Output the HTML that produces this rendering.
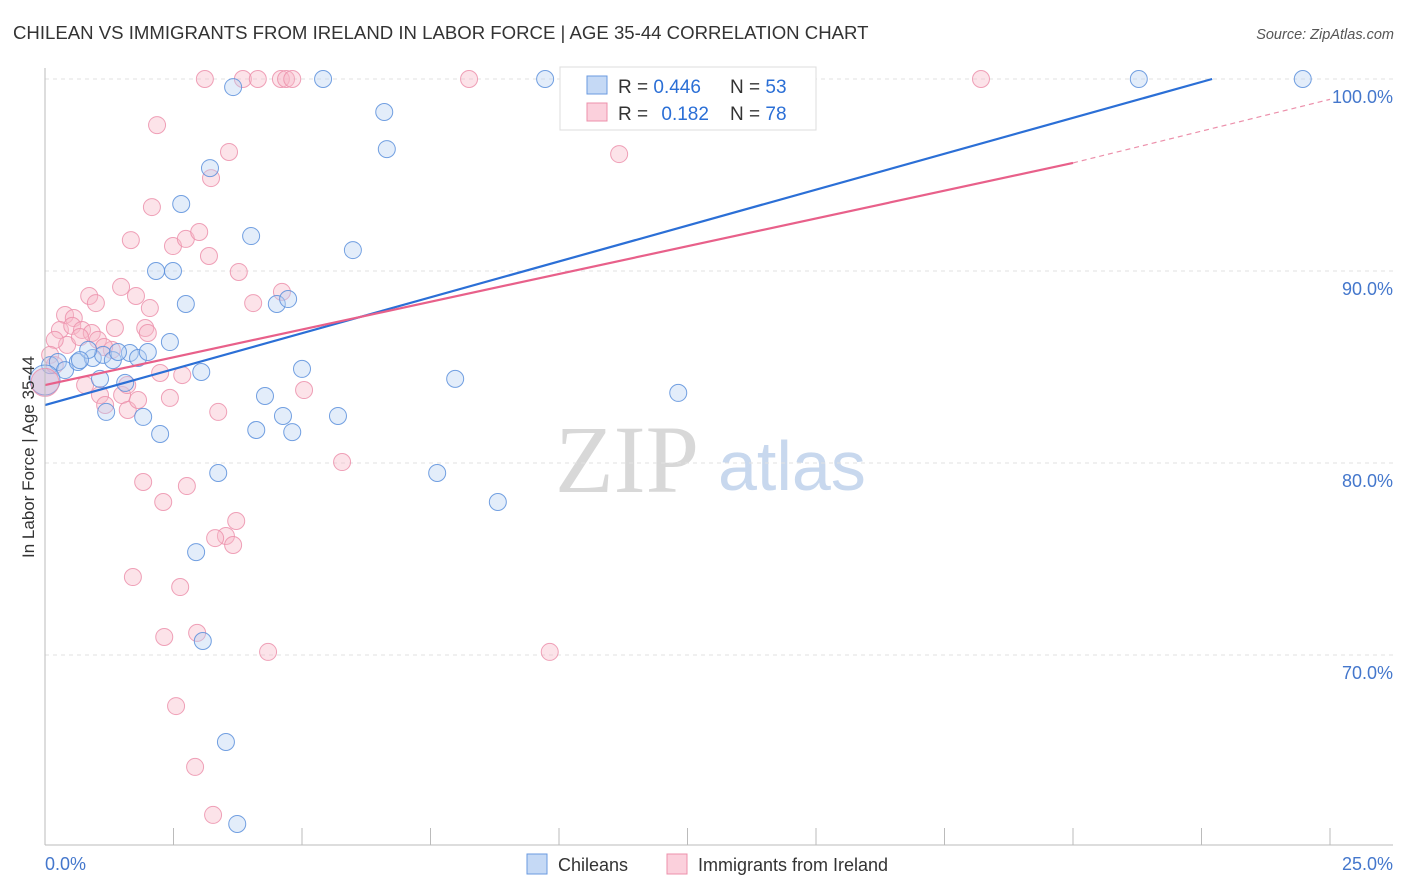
<!DOCTYPE html>
<html><head><meta charset="utf-8">
<style>
body{margin:0;background:#fff;font-family:"Liberation Sans",sans-serif;}
#wrap{position:relative;width:1406px;height:892px;overflow:hidden;}
</style></head>
<body>
<div id="wrap">
<svg id="svg" width="1406" height="892">
<text x="13" y="39" font-size="18.6" fill="#333">CHILEAN VS IMMIGRANTS FROM IRELAND IN LABOR FORCE | AGE 35-44 CORRELATION CHART</text>
<text x="1394" y="39" font-size="14.5" fill="#555" text-anchor="end" font-style="italic">Source: ZipAtlas.com</text>
<text x="555" y="492" font-size="96" fill="#d8d8d8" font-family="Liberation Serif">ZIP</text>
<text x="718" y="490" font-size="70" fill="#c8d8ee">atlas</text>
<g id="grid"></g><g id="pts"></g><g id="lines"></g>
<line x1="45" y1="68" x2="45" y2="845" stroke="#bbb"/>
<line x1="45" y1="845" x2="1393" y2="845" stroke="#bbb"/>
<text transform="translate(34,457) rotate(-90)" font-size="17" fill="#333" text-anchor="middle">In Labor Force | Age 35-44</text>
<text x="45" y="870" font-size="18" fill="#4477cc">0.0%</text>
<text x="1393" y="870" font-size="18" fill="#4477cc" text-anchor="end">25.0%</text>
<g>
<rect x="560" y="67" width="256" height="63" fill="#fff" stroke="#ddd"/>
<rect x="587" y="76" width="20" height="18" fill="#c5d9f5" stroke="#6a9ae0"/>
<rect x="587" y="103" width="20" height="18" fill="#fbd0dc" stroke="#ec90ab"/>
<text x="618" y="93" font-size="19" fill="#333">R = <tspan fill="#2b6fd6">0.446</tspan></text>
<text x="730" y="93" font-size="19" fill="#333">N = <tspan fill="#2b6fd6">53</tspan></text>
<text x="618" y="120" font-size="19" fill="#333">R = <tspan fill="#2b6fd6" dx="8">0.182</tspan></text>
<text x="730" y="120" font-size="19" fill="#333">N = <tspan fill="#2b6fd6">78</tspan></text>
</g>
<g>
<rect x="527" y="854" width="20" height="20" fill="#c5d9f5" stroke="#6a9ae0"/>
<text x="558" y="871" font-size="18" fill="#333">Chileans</text>
<rect x="667" y="854" width="20" height="20" fill="#fbd0dc" stroke="#ec90ab"/>
<text x="698" y="871" font-size="18" fill="#333">Immigrants from Ireland</text>
</g>
</svg>
</div>
<script>
const yTicks=[100,90,80,70];
const yTickLabels=["100.0%","90.0%","80.0%","70.0%"];
const xTicks=[0,2.5,5,7.5,10,12.5,15,17.5,20,22.5,25];
const blueX=[5.41,9.73,14.11,21.28,24.47,3.66,6.60,6.65,3.21,2.65,4.01,5.99,2.16,2.49,2.74,4.51,4.73,2.43,5.00,3.04,7.98,12.32,4.28,1.56,1.07,1.19,1.91,2.24,4.11,4.81,4.63,5.70,3.37,7.63,8.81,2.94,3.07,3.52,3.74,0.10,0.25,0.39,0.64,0.93,1.13,1.32,1.65,1.81,2.00,0.84,1.42,0.68];
const blueY=[100,100,100,100,100,99.58,98.28,96.35,95.36,93.49,91.82,91.09,90.0,90.0,88.28,88.28,88.54,86.30,84.90,84.74,84.38,83.65,83.49,84.17,84.38,82.66,82.40,81.51,81.72,81.61,82.45,82.45,79.48,79.48,77.97,75.36,70.73,65.47,61.20,85.10,85.26,84.84,85.26,85.47,85.63,85.36,85.73,85.47,85.78,85.89,85.78,85.36];
const pinkX=[3.11,3.85,4.14,4.59,4.69,4.81,8.25,18.21,2.18,3.58,11.17,3.23,2.08,1.67,2.49,2.74,3.00,3.19,3.77,4.61,4.05,1.48,1.77,2.04,0.86,0.99,0.39,0.56,0.29,0.53,0.72,0.91,1.03,1.36,1.95,2.00,0.43,0.68,1.30,1.15,0.19,0.10,0.19,0.78,1.07,1.17,1.50,1.61,1.81,1.60,2.24,2.43,2.67,3.37,5.04,5.78,1.91,2.76,2.30,3.72,3.52,3.31,3.66,1.71,2.63,2.32,2.96,4.34,9.82,2.55,2.92,3.27];
const pinkY=[100,100,100,100,100,100,100,100,97.60,96.20,96.09,94.84,93.33,91.61,91.30,91.67,92.03,90.78,89.95,88.91,88.33,89.17,88.70,88.07,88.70,88.33,87.71,87.55,86.93,87.14,86.93,86.77,86.41,87.03,87.03,86.77,86.15,86.56,85.89,86.04,86.41,85.63,85.10,84.06,83.54,83.02,83.54,82.76,83.28,84.06,84.69,83.39,84.58,82.66,83.80,80.05,79.01,78.80,77.97,76.98,76.20,76.09,75.73,74.06,73.54,70.94,71.15,70.16,70.16,67.34,64.17,61.67];
const bigBlue=[0,84.32];
const bigPink=[0,84.2];
const blueLine=[83.02,0.7478]; // intercept, slope
const pinkLine=[84.06,0.5785];
const X=v=>45+v*51.4;
const Y=v=>79+(100-v)*19.2;
const NS="http://www.w3.org/2000/svg";
function mk(t,a,p){const e=document.createElementNS(NS,t);for(const k in a)e.setAttribute(k,a[k]);p.appendChild(e);return e;}
const grid=document.getElementById('grid'),pts=document.getElementById('pts'),lines=document.getElementById('lines');
yTicks.forEach((t,i)=>{
 const l=mk('line',{x1:45,x2:1393,y1:Y(t),y2:Y(t),stroke:'#e2e2e2','stroke-dasharray':'4,4'},grid);
 
 
 const tx=mk('text',{x:1393,y:Y(t)+24,'font-size':18,fill:'#4477cc','text-anchor':'end'},grid);
 tx.textContent=yTickLabels[i];
 
 
});
xTicks.forEach(t=>{
 const l=mk('line',{x1:X(t),x2:X(t),y1:828,y2:845,stroke:'#bbb'},grid);
 
 
});
function dot(x,y,r,f,s,name){
 const c=mk('circle',{cx:X(x),cy:Y(y),r:r,fill:f,'fill-opacity':0.4,stroke:s,'stroke-opacity':0.85,'stroke-width':1},pts);
 
 
}
pinkX.forEach((x,i)=>dot(x,pinkY[i],8.5,'#f7b8c9','#ec90ab','ireland-point'));
blueX.forEach((x,i)=>dot(x,blueY[i],8.5,'#b9d2f3','#5b8fdc','chilean-point'));
dot(bigBlue[0],bigBlue[1],15,'#b9d2f3','#5b8fdc','chilean-point-large');
dot(bigPink[0],bigPink[1],14,'#d9a6c4','#ec90ab','ireland-point-large');
const bEnd=(100-blueLine[0])/blueLine[1];
let l=mk('line',{x1:X(0),y1:Y(blueLine[0]),x2:X(bEnd),y2:Y(100),stroke:'#2b6fd6','stroke-width':2.2},lines);


l=mk('line',{x1:X(0),y1:Y(pinkLine[0]),x2:X(20),y2:Y(pinkLine[0]+pinkLine[1]*20),stroke:'#e8608a','stroke-width':2.2},lines);


l=mk('line',{x1:X(20),y1:Y(pinkLine[0]+pinkLine[1]*20),x2:X(25),y2:Y(pinkLine[0]+pinkLine[1]*25)-8,stroke:'#ec90ab','stroke-width':1.2,'stroke-dasharray':'5,4'},lines);


</script>
</body></html>
